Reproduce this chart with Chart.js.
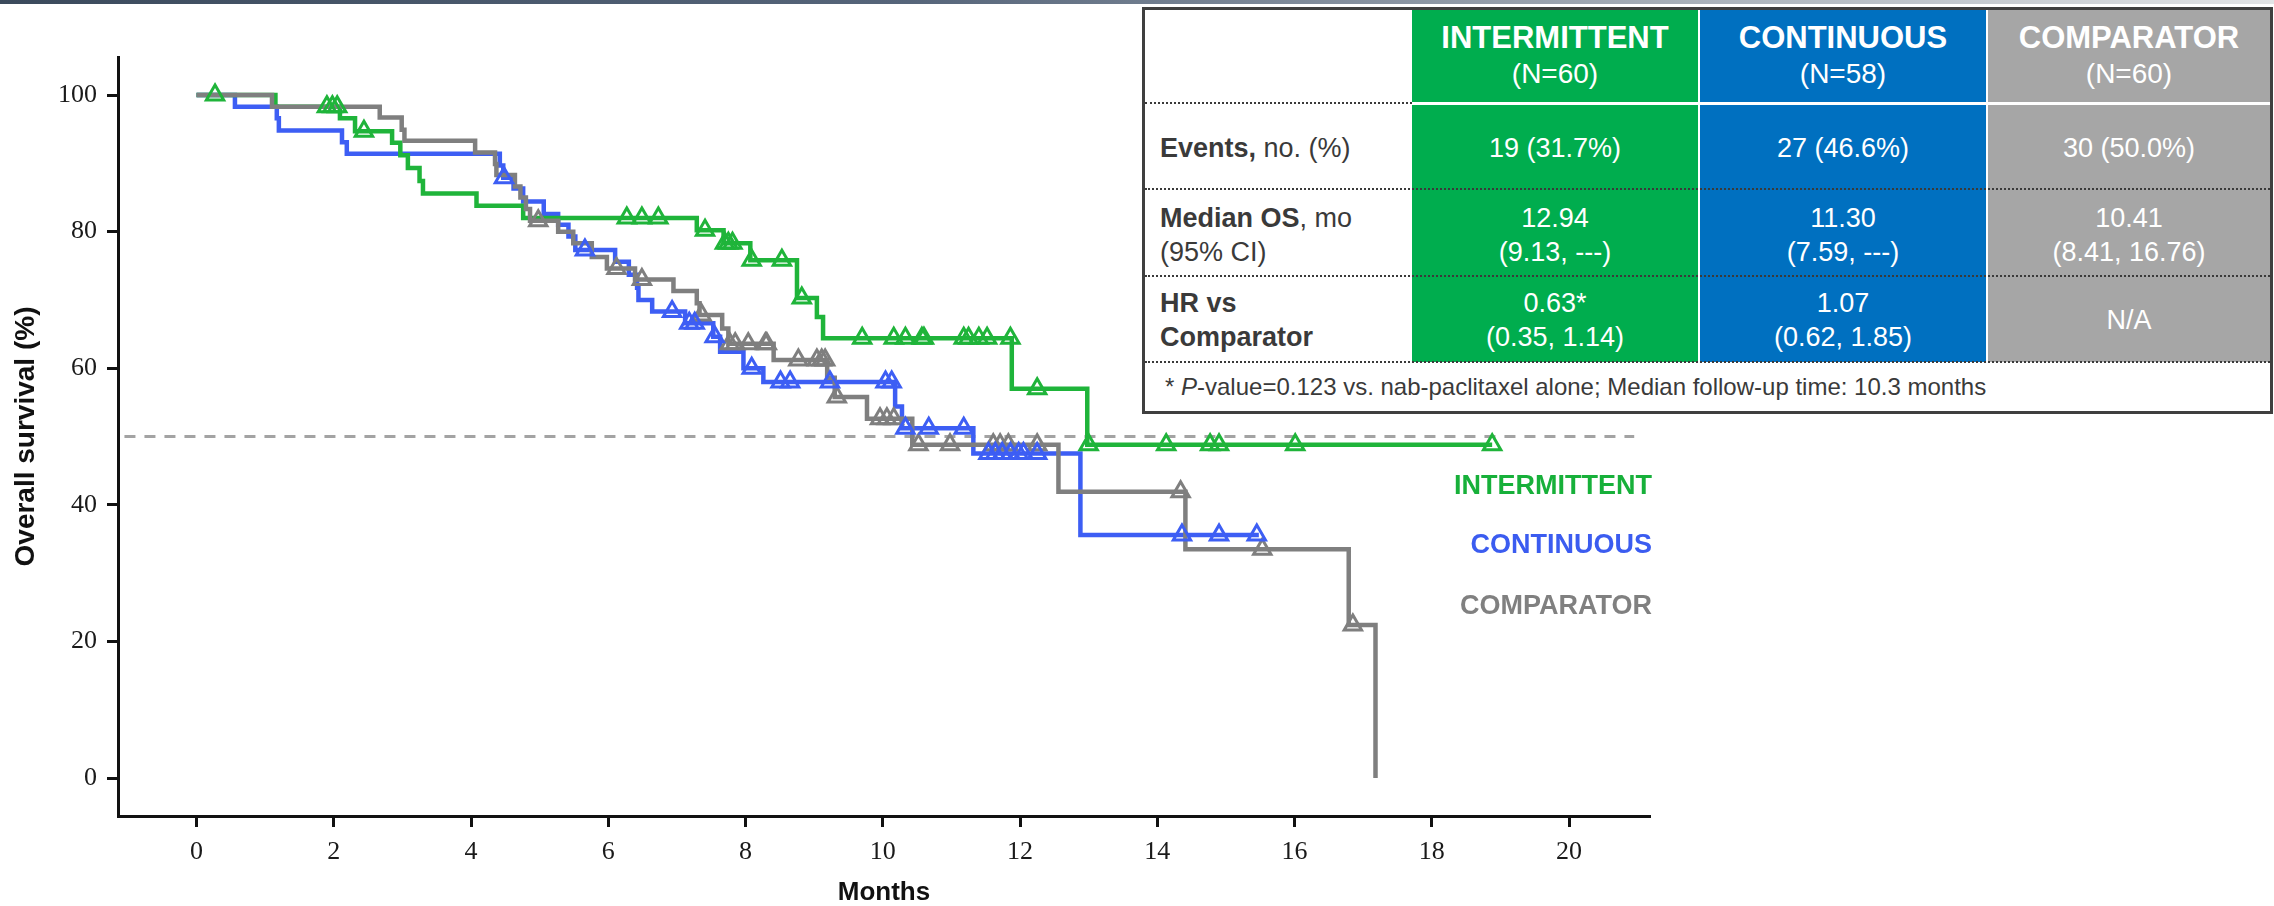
<!DOCTYPE html>
<html>
<head>
<meta charset="utf-8">
<title>Overall survival</title>
<script src="https://cdn.jsdelivr.net/npm/chart.js@4.4.1/dist/chart.umd.min.js"></script>
<style>
  html, body { margin: 0; padding: 0; background: #fff; }
  #page { position: relative; width: 2274px; height: 906px; overflow: hidden; font-family: "Liberation Sans", Arial, sans-serif; }
  #topbar { position: absolute; left: 0; top: 0; width: 2274px; height: 4px;
    background: linear-gradient(to right, #3b4a5c 0%, #56657a 40%, #aab2bb 75%, #e2e4e6 100%); }
  #km { position: absolute; left: 0; top: 0; }
  .lg { position: absolute; right: 622px; font-weight: bold; font-size: 27px; line-height: 27px; white-space: nowrap; }
  #tbl { position: absolute; left: 1142px; top: 7px; width: 1131px; height: 407px; border: 3px solid #3f3f3f;
    box-sizing: border-box; background: #fff; color: #3a3a3a; }
  .blk { position: absolute; }
  .cell { position: absolute; display: flex; flex-direction: column; justify-content: center; align-items: center;
    text-align: center; color: #fff; font-size: 27px; line-height: 34px; white-space: nowrap; }
  .cell.head { line-height: 36px; }
  .cell.head .t { font-size: 31px; font-weight: bold; }
  .cell.head .n { font-size: 28px; }
  .lab { position: absolute; left: 15px; display: flex; flex-direction: column; justify-content: center;
    font-size: 27px; line-height: 34px; color: #3a3a3a; white-space: nowrap; }
  .dot { position: absolute; height: 0; border-top: 2px dotted #3a3a3a; }
  #foot { position: absolute; left: 20px; top: 353px; height: 48px; display: flex; align-items: center;
    font-size: 24px; color: #3a3a3a; white-space: nowrap; }
</style>
</head>
<body>
<div id="page">
  <div id="topbar"></div>
  <canvas id="km" width="2274" height="906"></canvas>
  <div id="legend"></div>
  <div id="tbl"></div>
</div>
<script>
'use strict';

// axis ticks
const xTickValues = [0, 2, 4, 6, 8, 10, 12, 14, 16, 18, 20];
const yTickValues = [0, 20, 40, 60, 80, 100];

// INTERMITTENT: KM steps (time in months, survival % after the step)
const intTime = [0, 1.15, 2.09, 2.31, 2.85, 2.97, 3.08, 3.25, 3.30, 4.08, 4.76, 7.29, 7.68, 8.07, 8.75, 9.04, 9.13, 11.88, 12.98, 18.88];
const intSurv = [100, 98.3, 96.6, 94.7, 93.0, 91.2, 89.3, 87.4, 85.6, 83.8, 82.0, 80.2, 78.3, 75.8, 70.3, 67.5, 64.4, 57.0, 48.8, 48.8];
const intCensor = [0.27, 1.90, 1.98, 2.05, 2.44, 6.27, 6.49, 6.73, 7.41, 7.70, 7.75, 7.81, 8.09, 8.53, 8.82,
  9.70, 10.16, 10.33, 10.57, 10.60, 11.18, 11.25, 11.40, 11.52, 11.86, 12.25, 13.0, 14.13, 14.77, 14.90, 16.01, 18.88];

// CONTINUOUS
const conTime = [0, 0.56, 1.17, 1.20, 2.12, 2.19, 4.42, 4.47, 4.62, 4.76, 5.06, 5.27, 5.42, 5.52, 6.10, 6.30, 6.42, 6.44,
  6.64, 7.12, 7.53, 7.63, 7.97, 8.26, 10.18, 10.28, 11.32, 12.88, 15.48];
const conSurv = [100, 98.3, 96.6, 94.8, 93.1, 91.4, 89.7, 87.9, 86.3, 84.4, 82.6, 81.0, 79.3, 77.3, 75.6, 73.7, 71.8, 70.0,
  68.3, 66.6, 64.6, 62.4, 60.0, 58.0, 54.4, 51.2, 47.5, 35.6, 35.6];
const conCensor = [4.48, 5.66, 6.93, 7.18, 7.26, 7.55, 8.09, 8.51, 8.65, 9.23, 10.04, 10.13, 10.33, 10.67, 11.18,
  11.54, 11.64, 11.74, 11.86, 11.98, 12.05, 12.25, 14.36, 14.90, 15.45];

// COMPARATOR
const cmpTime = [0, 1.10, 2.67, 2.99, 3.03, 4.06, 4.35, 4.37, 4.64, 4.72, 4.80, 4.86, 5.27, 5.49, 5.76, 5.98, 6.39, 6.95,
  7.29, 7.33, 7.66, 7.75, 8.41, 9.19, 9.30, 9.77, 10.43, 12.56, 14.41, 16.79, 17.18];
const cmpSurv = [100, 98.3, 96.7, 94.9, 93.3, 91.6, 89.9, 88.3, 86.6, 85.0, 83.3, 81.6, 80.0, 78.3, 76.3, 74.6, 73.0, 71.3,
  69.5, 67.8, 65.8, 63.6, 61.2, 58.6, 55.8, 52.6, 48.8, 41.9, 33.5, 22.4, 0];
const cmpCensor = [4.98, 6.12, 6.49, 7.36, 7.77, 7.85, 8.04, 8.29, 8.31, 8.77, 9.04, 9.11, 9.16, 9.33, 9.96, 10.06, 10.16,
  10.52, 10.98, 11.61, 11.71, 11.83, 12.25, 14.34, 15.53, 16.85];

// 50% reference line
const refTimes = [-1.05, 20.95];
const refLevel = 50;

// table
const armNames = ['INTERMITTENT', 'CONTINUOUS', 'COMPARATOR'];
const armN = ['(N=60)', '(N=58)', '(N=60)'];
const armEvents = ['19 (31.7%)', '27 (46.6%)', '30 (50.0%)'];
const armMedian = ['12.94', '11.30', '10.41'];
const armMedianCI = ['(9.13, ---)', '(7.59, ---)', '(8.41, 16.76)'];
const armHR = ['0.63*', '1.07', 'N/A'];
const armHRCI = ['(0.35, 1.14)', '(0.62, 1.85)', ''];

const armLine = ['#1fb43a', '#3d5ef4', '#7f7f7f'];
const armText = ['#17b03a', '#3b5cf0', '#808080'];
const armFill = ['#00ad4e', '#0070c0', '#a6a6a6'];

const stepPoints = (times, surv) => times.map((t, i) => ({ x: t, y: surv[i] }));

// survival at a censoring time
const survAt = (times, surv, t) => {
    let s = surv[0];
    for (let i = 0; i < times.length; i++) {
        if (times[i] <= t) s = surv[i];
    }
    return s;
};

const curve = (times, surv, color, order) => ({
    data: stepPoints(times, surv),
    showLine: true,
    stepped: true,
    borderColor: color,
    borderWidth: 4.5,
    pointRadius: 0,
    order: order
});

const marks = (times, surv, censor, color) => ({
    data: censor.map(t => ({ x: t, y: survAt(times, surv, t) })),
    showLine: false,
    pointStyle: 'triangle',
    pointRadius: 10,
    borderWidth: 3,
    borderColor: color,
    backgroundColor: 'rgba(255,255,255,0)',
    order: 0
});

const ctx = document.getElementById('km').getContext('2d');
new Chart(ctx, {
    type: 'scatter',
    data: {
        datasets: [
            {
                data: refTimes.map(t => ({ x: t, y: refLevel })),
                showLine: true,
                borderColor: '#a3a3a3',
                borderWidth: 3,
                borderDash: [11, 9],
                pointRadius: 0,
                order: 5
            },
            curve(conTime, conSurv, armLine[1], 3),
            curve(intTime, intSurv, armLine[0], 2),
            curve(cmpTime, cmpSurv, armLine[2], 1),
            marks(conTime, conSurv, conCensor, armLine[1]),
            marks(intTime, intSurv, intCensor, armLine[0]),
            marks(cmpTime, cmpSurv, cmpCensor, armLine[2])
        ]
    },
    options: {
        responsive: false,
        animation: false,
        devicePixelRatio: 1,
        layout: { padding: { left: 0, top: 57, right: 624, bottom: 0 } },
        plugins: { legend: { display: false }, tooltip: { enabled: false } },
        scales: {
            x: {
                type: 'linear',
                min: -1.144,
                max: 21.18,
                afterFit: s => { s.height = 90; },
                afterBuildTicks: s => { s.ticks = xTickValues.map(v => ({ value: v })); },
                ticks: {
                    font: { family: 'Liberation Serif', size: 26 },
                    color: '#1a1a1a',
                    padding: 10,
                    autoSkip: false,
                    maxRotation: 0,
                    callback: v => String(v)
                },
                grid: { drawOnChartArea: false, drawTicks: true, tickLength: 11, tickWidth: 3, tickColor: '#111' },
                border: { display: true, color: '#111', width: 3 },
                title: {
                    display: true,
                    text: 'Months',
                    color: '#111',
                    font: { family: 'Liberation Sans', size: 26, weight: 'bold', lineHeight: 1 },
                    padding: { top: 0, bottom: 0 }
                }
            },
            y: {
                type: 'linear',
                min: -5.56,
                max: 105.57,
                afterFit: s => { s.width = 118; },
                afterBuildTicks: s => { s.ticks = yTickValues.map(v => ({ value: v })); },
                ticks: {
                    font: { family: 'Liberation Serif', size: 26 },
                    color: '#1a1a1a',
                    padding: 10,
                    autoSkip: false,
                    callback: v => String(v)
                },
                grid: { drawOnChartArea: false, drawTicks: true, tickLength: 11, tickWidth: 3, tickColor: '#111' },
                border: { display: true, color: '#111', width: 3 },
                title: {
                    display: true,
                    text: 'Overall survival (%)',
                    color: '#111',
                    font: { family: 'Liberation Sans', size: 28, weight: 'bold', lineHeight: 1.2 },
                    padding: { top: 9, bottom: 0 }
                }
            }
        }
    }
});

// labels at the right end of the curves
const legendTops = [472, 531, 592];
const legend = document.getElementById('legend');
armNames.forEach((name, i) => {
    const d = document.createElement('div');
    d.className = 'lg';
    d.style.top = legendTops[i] + 'px';
    d.style.color = armText[i];
    d.textContent = name;
    legend.appendChild(d);
});

// results table
const tbl = document.getElementById('tbl');
const colLeft = [267, 555, 843];
const colWidth = [286, 286, 282];

const addDiv = (cls, css, html) => {
    const d = document.createElement('div');
    d.className = cls;
    Object.assign(d.style, css);
    if (html !== undefined) d.innerHTML = html;
    tbl.appendChild(d);
    return d;
};

armNames.forEach((name, i) => {
    const l = colLeft[i] + 'px', w = colWidth[i] + 'px';
    addDiv('blk', { left: l, top: '0px', width: w, height: '92px', background: armFill[i] });
    addDiv('blk', { left: l, top: '95px', width: w, height: '257px', background: armFill[i] });
    addDiv('cell head', { left: l, top: '0px', width: w, height: '92px' },
        '<div class="t">' + name + '</div><div class="n">' + armN[i] + '</div>');
    addDiv('cell', { left: l, top: '96px', width: w, height: '84px' }, '<div>' + armEvents[i] + '</div>');
    addDiv('cell', { left: l, top: '182px', width: w, height: '85px' },
        '<div>' + armMedian[i] + '</div><div>' + armMedianCI[i] + '</div>');
    addDiv('cell', { left: l, top: '267px', width: w, height: '86px' },
        '<div>' + armHR[i] + '</div>' + (armHRCI[i] ? '<div>' + armHRCI[i] + '</div>' : ''));
});

addDiv('lab', { top: '96px', height: '84px' }, '<div><b>Events,</b> no. (%)</div>');
addDiv('lab', { top: '182px', height: '85px' }, '<div><b>Median OS</b>, mo</div><div>(95% CI)</div>');
addDiv('lab', { top: '267px', height: '86px' }, '<div><b>HR vs</b></div><div><b>Comparator</b></div>');

addDiv('dot', { left: '0px', top: '92px', width: '267px' });
[178, 265, 351].forEach(y => addDiv('dot', { left: '0px', top: y + 'px', width: '1125px' }));

const foot = document.createElement('div');
foot.id = 'foot';
foot.innerHTML = '*&nbsp;<i>P</i>-value=0.123 vs. nab-paclitaxel alone; Median follow-up time: 10.3 months';
tbl.appendChild(foot);
</script>
</body>
</html>
